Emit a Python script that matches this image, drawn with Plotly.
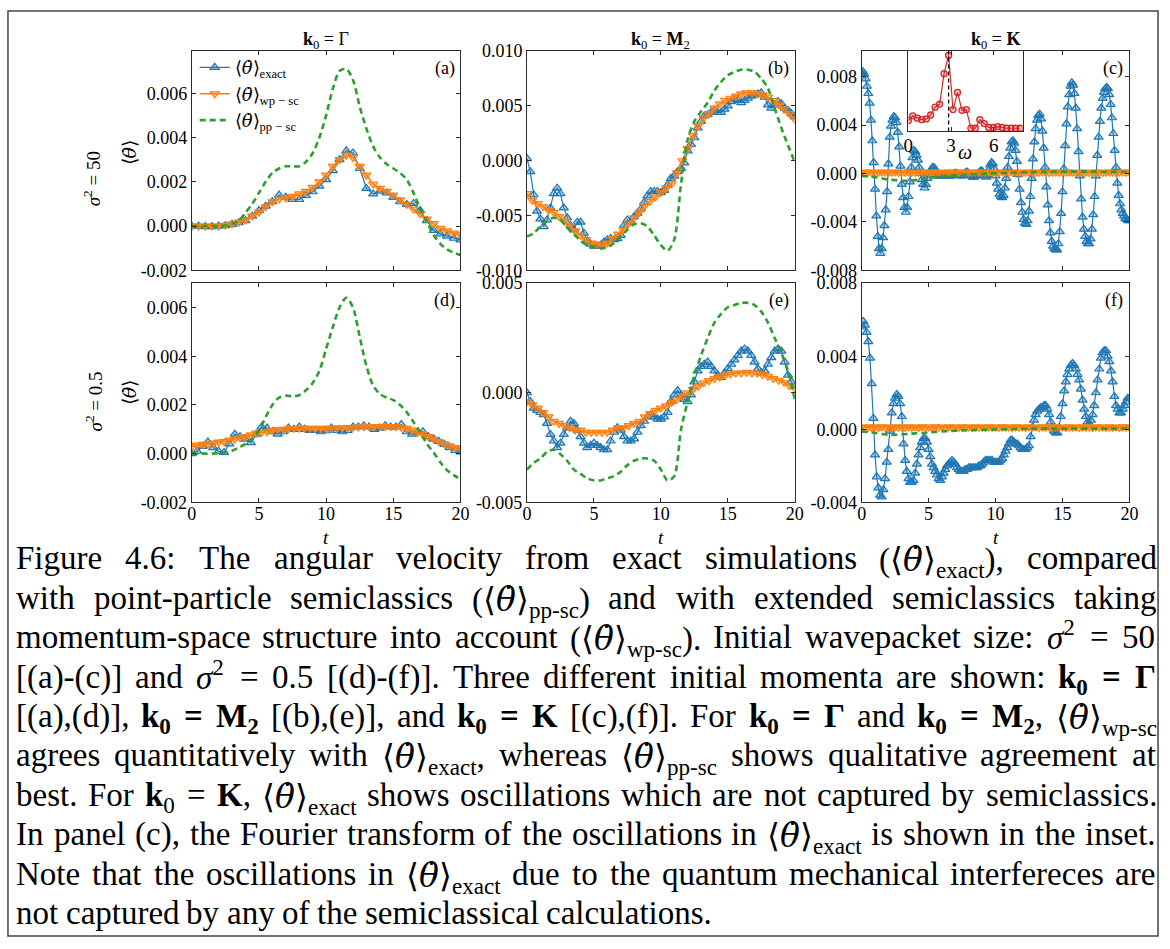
import re
import numpy as np
import plotly.graph_objects as go

W, H = 1170, 949
SERIF = "Liberation Serif"
BLUE, ORANGE, GREEN, RED = "#1f77b4", "#ff7f0e", "#2ca02c", "#d62728"
AXIS_COLOR = "#2b2b2b"
# theta-dot set in DejaVu Serif so that the combining dot sits on the theta
THETA = "\u27e8<span style=\"font-family:DejaVu Serif\"><i>\u03b8\u0307</i></span>\u27e9"

# ---------------- sampling grids ----------------
t_050 = np.linspace(0.0, 20.0, 41)
t_040 = np.linspace(0.0, 20.0, 51)
t_025 = np.linspace(0.0, 20.0, 81)
t_0125 = np.linspace(0.0, 20.0, 161)
t_010 = np.linspace(0.0, 20.0, 201)

# ---------------- sigma^2 = 50, k0 = Gamma ----------------
gamma50_exact = [
    0.0, 0.0, -0.00002, -0.00002, 0.0, 0.00002, 0.00008, 0.00015, 0.00025, 0.00045,
    0.0007, 0.0009, 0.0011, 0.0014, 0.0013, 0.0012, 0.0012, 0.00138, 0.00155, 0.0018,
    0.0021, 0.0025, 0.003, 0.0034, 0.0033, 0.0026, 0.0017, 0.00145, 0.00158, 0.0015,
    0.0013, 0.0011, 0.00098, 0.00102, 0.0007, 0.00025, -0.0002, -0.00035, -0.00045, -0.00055,
    -0.00062]
gamma50_wp = [
    0.0, 0.0, 0.0, 0.0, 0.0, 0.00005, 0.0001, 0.00018, 0.00028, 0.00045,
    0.00063, 0.00087, 0.0011, 0.00122, 0.00127, 0.00134, 0.00145, 0.00157, 0.00175, 0.002,
    0.0023, 0.0027, 0.003, 0.0032, 0.0031, 0.0027, 0.0023, 0.0019, 0.0017, 0.00157,
    0.0014, 0.00118, 0.00098, 0.00077, 0.00056, 0.00032, 0.00011, -0.0001, -0.00022, -0.00032,
    -0.0004]
gamma50_pp = [
    0.0, 0.0, 0.0, 0.0, 0.0, 0.00003, 0.0001, 0.00025, 0.0006, 0.001,
    0.0015, 0.002, 0.0024, 0.0026, 0.0027, 0.0027, 0.0027, 0.0029, 0.0033, 0.004,
    0.005, 0.0062, 0.007, 0.0071, 0.0066, 0.0054, 0.0044, 0.0036, 0.0031, 0.0028,
    0.0026, 0.0024, 0.0021, 0.0015, 0.0008, 0.0002, -0.0004, -0.0008, -0.00105, -0.0012,
    -0.0013]

# ---------------- sigma^2 = 50, k0 = M2 ----------------
m2_50_exact = [
    0.0002, -0.0010, -0.0031, -0.0046, -0.0053, -0.0060, -0.0054, -0.0043,
    -0.0030, -0.0025, -0.0030, -0.0043, -0.0052, -0.0059, -0.0063, -0.0056,
    -0.0056, -0.0066, -0.0073, -0.0076, -0.0078, -0.0078, -0.0077, -0.0074,
    -0.0072, -0.0071, -0.0072, -0.0071, -0.0068, -0.0059, -0.0054, -0.0056,
    -0.0051, -0.0048, -0.0044, -0.0038, -0.0032, -0.0028, -0.0028, -0.0028,
    -0.0029, -0.0027, -0.0022, -0.0016, -0.0014, -0.0010, -0.0007, -0.0002,
    0.0009, 0.0015, 0.0021, 0.0030, 0.0036, 0.0041, 0.0042, 0.0044,
    0.0046, 0.0044, 0.0044, 0.0047, 0.0050, 0.0054, 0.0056, 0.0055,
    0.0053, 0.0055, 0.0057, 0.0059, 0.0060, 0.0061, 0.0062, 0.0058,
    0.0051, 0.0048, 0.0051, 0.0054, 0.0052, 0.0048, 0.0046, 0.0043,
    0.0040]
m2_50_wp = [
    -0.0030, -0.0036, -0.0039, -0.0042, -0.0045, -0.0047, -0.0051, -0.0055, -0.0059, -0.0064,
    -0.0068, -0.0072, -0.0075, -0.0076, -0.0077, -0.0075, -0.0071, -0.0067, -0.0063, -0.0057,
    -0.0052, -0.0047, -0.0041, -0.0037, -0.0033, -0.0029, -0.0025, -0.0021, -0.0011, 0.0000,
    0.0011, 0.0023, 0.0032, 0.0039, 0.0043, 0.0048, 0.0052, 0.0055, 0.0057, 0.0059,
    0.0061, 0.0062, 0.0062, 0.0061, 0.0060, 0.0058, 0.0055, 0.0051, 0.0047, 0.0043,
    0.0038]
m2_50_pp = [
    -0.0069, -0.0066, -0.0060, -0.0055, -0.0052, -0.0054, -0.0061, -0.0067, -0.0073, -0.0077,
    -0.0079, -0.0080, -0.0079, -0.0075, -0.0069, -0.0063, -0.0058, -0.0057, -0.0060, -0.0068,
    -0.0077, -0.0082, -0.0072, -0.0022, 0.0019, 0.0036, 0.0045, 0.0053, 0.0064, 0.0072,
    0.0078, 0.0081, 0.0083, 0.0083, 0.0081, 0.0075, 0.0066, 0.0048, 0.0030, 0.0014,
    -0.0001]

# ---------------- sigma^2 = 50, k0 = K ----------------
k50_exact = [
    0.0083, 0.0084, 0.0082, 0.0078, 0.0072, 0.0066, 0.0058, 0.0044, 0.0027, 0.0009,
    -0.0013, -0.0035, -0.0052, -0.0062, -0.0066, -0.0062, -0.0053, -0.0043, -0.0030, -0.0015,
    0.0008, 0.0030, 0.0039, 0.0044, 0.0047, 0.0046, 0.0042, 0.0034, 0.0022, 0.0006,
    -0.0009, -0.0020, -0.0028, -0.0032, -0.0028, -0.0019, -0.0007, 0.0005, 0.0013, 0.0019,
    0.0018, 0.0015, 0.0011, 0.0005, 0.0000, -0.0005, -0.0009, -0.0012, -0.0009, -0.0004,
    -0.0001, 0.0001, 0.0003, 0.0005, 0.0005, 0.0003, 0.0001, -0.0001, -0.0002, -0.0002,
    -0.0002, -0.0002, -0.0001, -0.0001, -0.0001, -0.0002, -0.0002, -0.0002, -0.0001, 0.0000,
    0.0000, 0.0000, -0.0001, -0.0001, -0.0002, -0.0002, -0.0001, 0.0000, 0.0001, 0.0001,
    0.0000, -0.0001, -0.0002, -0.0003, -0.0003, -0.0002, -0.0001, 0.0000, 0.0001, 0.0002,
    0.0002, 0.0000, -0.0002, -0.0003, -0.0001, 0.0003, 0.0007, 0.0009, 0.0008, 0.0004,
    -0.0002, -0.0008, -0.0013, -0.0017, -0.0019, -0.0020, -0.0018, -0.0012, -0.0004, 0.0005,
    0.0014, 0.0021, 0.0026, 0.0027, 0.0025, 0.0019, 0.0010, -0.0001, -0.0013, -0.0024,
    -0.0032, -0.0038, -0.0041, -0.0042, -0.0039, -0.0031, -0.0019, -0.0004, 0.0012, 0.0026,
    0.0037, 0.0044, 0.0048, 0.0049, 0.0045, 0.0035, 0.0021, 0.0005, -0.0011, -0.0026,
    -0.0039, -0.0049, -0.0056, -0.0060, -0.0062, -0.0063, -0.0063, -0.0058, -0.0048, -0.0033,
    -0.0015, 0.0004, 0.0023, 0.0041, 0.0055, 0.0065, 0.0072, 0.0075, 0.0073, 0.0066,
    0.0054, 0.0037, 0.0018, -0.0002, -0.0021, -0.0036, -0.0046, -0.0052, -0.0056, -0.0058,
    -0.0058, -0.0054, -0.0046, -0.0034, -0.0019, -0.0002, 0.0015, 0.0030, 0.0043, 0.0054,
    0.0062, 0.0067, 0.0070, 0.0071, 0.0070, 0.0065, 0.0057, 0.0046, 0.0033, 0.0019,
    0.0005, -0.0008, -0.0018, -0.0025, -0.0030, -0.0033, -0.0035, -0.0037, -0.0038, -0.0039,
    -0.0039]
k50_wp = [
    0.00008, 0.0001, 0.00012, 0.0001, 0.00008, 0.0001, 0.00012, 0.0001, 0.00008, 0.0001,
    0.00012, 0.0001, 0.00008, 0.0001, 0.00012, 0.0001, 0.00008, 0.0001, 0.00012, 0.0001,
    0.00008, 0.0001, 0.00012, 0.0001, 0.00008, 0.0001, 0.00012, 0.0001, 0.00008, 0.0001,
    0.00012, 0.0001, 0.00008, 0.0001, 0.00012, 0.0001, 0.00008, 0.0001, 0.00012, 0.0001,
    0.00008, 0.0001, 0.00012, 0.0001, 0.00008, 0.0001, 0.00012, 0.0001, 0.00008, 0.0001,
    0.00012, 0.0001, 0.00008, 0.0001, 0.00012, 0.0001, 0.00008, 0.0001, 0.00012, 0.0001,
    0.00008, 0.0001, 0.00012, 0.0001, 0.00008, 0.0001, 0.00012, 0.0001, 0.00008, 0.0001,
    0.00012, 0.0001, 0.00008, 0.0001, 0.00012, 0.0001, 0.00008, 0.0001, 0.00012, 0.0001,
    0.0001]
k50_pp = [
    -0.0002, -0.00025, -0.0003, -0.0004, -0.0005, -0.00055, -0.0006, -0.0006, -0.00055, -0.0005,
    -0.0004, -0.0003, -0.00025, -0.0002, -0.00015, -0.0001, -0.00008, -0.00005, -0.00003, 0.0,
    0.00002, 0.00004, 0.00006, 0.00008, 0.0001, 0.00011, 0.00012, 0.00013, 0.00014, 0.00015,
    0.00015, 0.00015, 0.00015, 0.00015, 0.00015, 0.00015, 0.00014, 0.00013, 0.00013, 0.00012,
    0.00012]

# Fourier spectrum of the k0 = K oscillations (inset)
fft_omega = [0.00, 0.31, 0.63, 0.94, 1.26, 1.57, 1.88, 2.20, 2.51, 2.83, 3.14, 3.46, 3.77,
             4.08, 4.40, 4.71, 5.03, 5.34, 5.65, 5.97, 6.28, 6.60, 6.91, 7.23, 7.54, 7.85]
fft_amp = [0.14, 0.20, 0.17, 0.15, 0.16, 0.21, 0.31, 0.35, 0.74, 0.975, 0.28, 0.50, 0.27,
           0.28, 0.04, 0.04, 0.15, 0.10, 0.05, 0.05, 0.06, 0.05, 0.04, 0.04, 0.04, 0.04]
fft_marker_omega = 2.83

# ---------------- sigma^2 = 0.5, k0 = Gamma ----------------
gamma05_exact = [
    0.0, 0.0001, 0.0003, 0.00048, 0.00025, 0.0001, 0.00005, 0.0004, 0.0008, 0.0007,
    0.0006, 0.00045, 0.0008, 0.0011, 0.00105, 0.0009, 0.0008, 0.0009, 0.00105, 0.001,
    0.0011, 0.001, 0.00095, 0.00095, 0.0009, 0.00094, 0.00105, 0.00095, 0.0009, 0.00095,
    0.0011, 0.0011, 0.00115, 0.0011, 0.001, 0.00105, 0.00115, 0.0011, 0.0011, 0.0012,
    0.0009, 0.0008, 0.00088, 0.0009, 0.0007, 0.0006, 0.0005, 0.00038, 0.00025, 0.00013,
    0.00007]
gamma05_wp = [
    0.0003, 0.00035, 0.00038, 0.0004, 0.00043, 0.00047, 0.0005, 0.00056, 0.0006, 0.00065,
    0.0007, 0.00077, 0.00084, 0.00088, 0.0009, 0.00095, 0.00099, 0.001, 0.00102, 0.00104,
    0.00104, 0.00104, 0.00104, 0.00104, 0.00104, 0.00104, 0.00105, 0.00106, 0.00106, 0.00107,
    0.00108, 0.00109, 0.0011, 0.0011, 0.00111, 0.00111, 0.00111, 0.00111, 0.0011, 0.00108,
    0.00104, 0.00097, 0.00088, 0.0008, 0.0007, 0.0006, 0.0005, 0.0004, 0.00032, 0.00025,
    0.0002]
gamma05_pp = [
    0.0, 0.0, 0.0, 0.0, 0.00002, 0.00006, 0.00012, 0.00025, 0.0004, 0.0006,
    0.00095, 0.0015, 0.002, 0.0023, 0.00238, 0.00236, 0.0024, 0.0026, 0.0029, 0.0034,
    0.0043, 0.0052, 0.006, 0.0064, 0.006, 0.0048, 0.0036, 0.0028, 0.00245, 0.0023,
    0.0022, 0.002, 0.0017, 0.0013, 0.0009, 0.0004, 0.00005, -0.00035, -0.00068, -0.00088,
    -0.00105]

# ---------------- sigma^2 = 0.5, k0 = M2 ----------------
m2_05_exact = [
    0.0, -0.0004, -0.0007, -0.0008, -0.0009, -0.0010, -0.0014, -0.0019,
    -0.0022, -0.0025, -0.0023, -0.0019, -0.0016, -0.0013, -0.0014, -0.0017,
    -0.0020, -0.0023, -0.0025, -0.0024, -0.0023, -0.0024, -0.0025, -0.0026,
    -0.0026, -0.0022, -0.0018, -0.0016, -0.0017, -0.0020, -0.0022, -0.0022,
    -0.0021, -0.0018, -0.0015, -0.0013, -0.0011, -0.0010, -0.0011, -0.0012,
    -0.0012, -0.0011, -0.0009, -0.0004, -0.0001, 0.0001, -0.0001, -0.0003,
    -0.0004, -0.0001, 0.0005, 0.0010, 0.0012, 0.0013, 0.0014, 0.0012,
    0.0010, 0.0008, 0.0007, 0.0009, 0.0011, 0.0013, 0.0015, 0.0017,
    0.0019, 0.0020, 0.0019, 0.0017, 0.0014, 0.0011, 0.0009, 0.0010,
    0.0013, 0.0016, 0.0019, 0.0020, 0.0019, 0.0014, 0.0008, 0.0005,
    0.0003]
m2_05_wp = [
    -0.0004, -0.00055, -0.0007, -0.0009, -0.0011, -0.0013, -0.0014, -0.0015, -0.0016, -0.0017,
    -0.0017, -0.0018, -0.0018, -0.0018, -0.0018, -0.0018, -0.0017, -0.0016, -0.0016, -0.0015,
    -0.0014, -0.0013, -0.0011, -0.00095, -0.0008, -0.0007, -0.0006, -0.00045, -0.0003, -0.00015,
    0.0, 0.00015, 0.0003, 0.00045, 0.00055, 0.00065, 0.00072, 0.0008, 0.00085, 0.0009,
    0.0009, 0.00093, 0.0009, 0.0009, 0.00083, 0.00075, 0.00065, 0.00057, 0.00048, 0.00033,
    0.0002]
m2_05_pp = [
    -0.0035, -0.0032, -0.0030, -0.0027, -0.0026, -0.0028, -0.0031, -0.0035, -0.0037, -0.0039,
    -0.0040, -0.0040, -0.0039, -0.0038, -0.0036, -0.0033, -0.0031, -0.0030, -0.0030, -0.0031,
    -0.0035, -0.0040, -0.0038, -0.0017, -0.0004, 0.0008, 0.0017, 0.0025, 0.0032, 0.0036,
    0.0039, 0.0040, 0.0041, 0.0041, 0.0040, 0.0037, 0.0032, 0.0025, 0.0018, 0.0010,
    -0.0003]

# ---------------- sigma^2 = 0.5, k0 = K ----------------
k05_exact = [
    0.0056, 0.0059, 0.0057, 0.0053, 0.0048, 0.0039, 0.0025, 0.0006,
    -0.0014, -0.0026, -0.0032, -0.0036, -0.0037, -0.0033, -0.0027, -0.0018,
    -0.0011, -0.0001, 0.0009, 0.0014, 0.0017, 0.0019, 0.0018, 0.0014,
    0.0007, -0.0008, -0.0017, -0.0023, -0.0027, -0.0029, -0.0029, -0.0028,
    -0.0024, -0.0019, -0.0014, -0.0010, -0.0007, -0.0005, -0.0005, -0.0007,
    -0.0011, -0.0015, -0.0019, -0.0021, -0.0023, -0.0025, -0.0027, -0.0028,
    -0.0026, -0.0024, -0.0022, -0.0020, -0.0019, -0.0018, -0.0017, -0.0018,
    -0.0019, -0.0021, -0.0022, -0.0023, -0.0023, -0.0023, -0.0022, -0.0022,
    -0.0021, -0.0021, -0.0021, -0.0021, -0.0021, -0.0021, -0.0020, -0.0020,
    -0.0019, -0.0018, -0.0017, -0.0017, -0.0017, -0.0017, -0.0017, -0.0018,
    -0.0018, -0.0018, -0.0018, -0.0017, -0.0016, -0.0014, -0.0012, -0.0010,
    -0.0008, -0.0006, -0.0006, -0.0007, -0.0008, -0.0008, -0.0009, -0.0010,
    -0.0011, -0.0011, -0.0011, -0.0010, -0.0009, -0.0004, 0.0001, 0.0005,
    0.0008, 0.0010, 0.0011, 0.0012, 0.0012, 0.0013, 0.0013, 0.0011,
    0.0008, 0.0004, 0.0001, -0.0001, -0.0002, -0.0002, 0.0001, 0.0007,
    0.0014, 0.0021, 0.0026, 0.0030, 0.0033, 0.0035, 0.0036, 0.0035,
    0.0033, 0.0030, 0.0027, 0.0022, 0.0016, 0.0011, 0.0007, 0.0004,
    0.0003, 0.0005, 0.0008, 0.0013, 0.0020, 0.0027, 0.0033, 0.0039,
    0.0042, 0.0043, 0.0043, 0.0040, 0.0037, 0.0032, 0.0026, 0.0018,
    0.0013, 0.0011, 0.0009, 0.0009, 0.0011, 0.0013, 0.0015, 0.0017,
    0.0017]
k05_wp = [
    0.00012, 0.0001, 0.00013, 0.00011, 0.00012, 0.0001, 0.00013, 0.00011, 0.00012, 0.0001,
    0.00013, 0.00011, 0.00012, 0.0001, 0.00013, 0.00011, 0.00012, 0.0001, 0.00013, 0.00011,
    0.00012, 0.0001, 0.00013, 0.00011, 0.00012, 0.0001, 0.00013, 0.00011, 0.00012, 0.0001,
    0.00013, 0.00011, 0.00012, 0.0001, 0.00013, 0.00011, 0.00012, 0.0001, 0.00013, 0.00011,
    0.00012, 0.0001, 0.00013, 0.00011, 0.00012, 0.0001, 0.00013, 0.00011, 0.00012, 0.0001,
    0.00013, 0.00011, 0.00012, 0.0001, 0.00013, 0.00011, 0.00012, 0.0001, 0.00013, 0.00011,
    0.00012, 0.0001, 0.00013, 0.00011, 0.00012, 0.0001, 0.00013, 0.00011, 0.00012, 0.0001,
    0.00013, 0.00011, 0.00012, 0.0001, 0.00013, 0.00011, 0.00012, 0.0001, 0.00013, 0.00011,
    0.00012]
k05_pp = [
    -0.00012, -0.00015, -0.0002, -0.00025, -0.0003, -0.0003, -0.00028, -0.00025, -0.00022, -0.0002,
    -0.00017, -0.00015, -0.00012, -0.0001, -0.00008, -0.00006, -0.00005, -0.00004, -0.00003, -0.00002,
    -0.00001, 0.0, 0.00001, 0.00002, 0.00003, 0.00003, 0.00004, 0.00004, 0.00004, 0.00004,
    0.00004, 0.00004, 0.00004, 0.00004, 0.00004, 0.00004, 0.00004, 0.00004, 0.00004, 0.00004,
    0.00004]

# ---------------- text ----------------
col_titles = ["<b>k</b><sub>0</sub> = \u0393",
              "<b>k</b><sub>0</sub> = <b>M</b><sub>2</sub>",
              "<b>k</b><sub>0</sub> = <b>K</b>"]
row_titles = ["<i>\u03c3</i><sup>2</sup> = 50", "<i>\u03c3</i><sup>2</sup> = 0.5"]
panel_tags = ["(a)", "(b)", "(c)", "(d)", "(e)", "(f)"]
series_names = [THETA + "<sub>exact</sub>", THETA + "<sub>wp \u2212 sc</sub>",
                THETA + "<sub>pp \u2212 sc</sub>"]

K0 = "<b>k</b><sub><b>0</b></sub> <b>=</b>"
caption_lines = [
    "Figure 4.6:  The angular velocity from exact simulations (" + THETA + "<sub>exact</sub>), compared",
    "with point-particle semiclassics (" + THETA + "<sub>pp-sc</sub>) and with extended semiclassics taking",
    "momentum-space structure into account (" + THETA + "<sub>wp-sc</sub>). Initial wavepacket size: <i>\u03c3</i><sup>2</sup> = 50",
    "[(a)-(c)] and <i>\u03c3</i><sup>2</sup> = 0.5 [(d)-(f)]. Three different initial momenta are shown: " + K0 + " <b>\u0393</b>",
    "[(a),(d)], " + K0 + " <b>M</b><sub><b>2</b></sub> [(b),(e)], and " + K0 + " <b>K</b> [(c),(f)]. For " + K0
    + " <b>\u0393</b> and " + K0 + " <b>M</b><sub><b>2</b></sub>, " + THETA + "<sub>wp-sc</sub>",
    "agrees quantitatively with " + THETA + "<sub>exact</sub>, whereas " + THETA + "<sub>pp-sc</sub> shows qualitative agreement at",
    "best. For <b>k</b><sub>0</sub> = <b>K</b>, " + THETA + "<sub>exact</sub> shows oscillations which are not captured by semiclassics.",
    "In panel (c), the Fourier transform of the oscillations in " + THETA + "<sub>exact</sub> is shown in the inset.",
    "Note that the oscillations in " + THETA + "<sub>exact</sub> due to the quantum mechanical interfereces are",
    "not captured by any of the semiclassical calculations.",
]

for name, arr, n in [("gamma50_exact", gamma50_exact, 41), ("gamma50_wp", gamma50_wp, 41),
                     ("gamma50_pp", gamma50_pp, 41), ("m2_50_exact", m2_50_exact, 81),
                     ("m2_50_wp", m2_50_wp, 51), ("m2_50_pp", m2_50_pp, 41),
                     ("k50_exact", k50_exact, 201), ("k50_wp", k50_wp, 81), ("k50_pp", k50_pp, 41),
                     ("gamma05_exact", gamma05_exact, 51), ("gamma05_wp", gamma05_wp, 51),
                     ("gamma05_pp", gamma05_pp, 41), ("m2_05_exact", m2_05_exact, 81),
                     ("m2_05_wp", m2_05_wp, 51), ("m2_05_pp", m2_05_pp, 41),
                     ("k05_exact", k05_exact, 161), ("k05_wp", k05_wp, 81), ("k05_pp", k05_pp, 41),
                     ("fft_amp", fft_amp, len(fft_omega))]:
    if len(arr) != n:
        raise ValueError(f"{name}: expected {n} samples, got {len(arr)}")

# ---------------- layout geometry (pixels) ----------------
COLS = [(189.0, 461.0), (528.3, 799.3), (867.0, 1138.0)]
ROWS = [(42.0, 266.0), (279.0, 503.0)]


def fx(p):
    return p / W


def fy(p):
    return 1.0 - p / H


panels = [
    dict(t=(t_050, t_050, t_050), y=(gamma50_exact, gamma50_wp, gamma50_pp),
         yr=[-0.002, 0.0079], yt=[-0.002, 0.0, 0.002, 0.004, 0.006]),
    dict(t=(t_025, t_040, t_050), y=(m2_50_exact, m2_50_wp, m2_50_pp),
         yr=[-0.010, 0.010], yt=[-0.010, -0.005, 0.0, 0.005, 0.010]),
    dict(t=(t_010, t_025, t_050), y=(k50_exact, k50_wp, k50_pp),
         yr=[-0.008, 0.0101], yt=[-0.008, -0.004, 0.0, 0.004, 0.008]),
    dict(t=(t_040, t_040, t_050), y=(gamma05_exact, gamma05_wp, gamma05_pp),
         yr=[-0.002, 0.007], yt=[-0.002, 0.0, 0.002, 0.004, 0.006]),
    dict(t=(t_025, t_040, t_050), y=(m2_05_exact, m2_05_wp, m2_05_pp),
         yr=[-0.005, 0.005], yt=[-0.005, 0.0, 0.005]),
    dict(t=(t_0125, t_025, t_050), y=(k05_exact, k05_wp, k05_pp),
         yr=[-0.004, 0.008], yt=[-0.004, 0.0, 0.004, 0.008]),
]

axis_style = dict(showline=True, linecolor=AXIS_COLOR, linewidth=1, mirror="ticks",
                  ticks="inside", ticklen=4, tickwidth=1, tickcolor=AXIS_COLOR,
                  showgrid=False, zeroline=False,
                  tickfont=dict(family=SERIF, size=18, color="black"))

fig = go.Figure()
layout = {}

for i, p in enumerate(panels):
    k = i + 1
    xa = "x" if k == 1 else f"x{k}"
    ya = "y" if k == 1 else f"y{k}"
    col, row = i % 3, i // 3
    legend = (k == 1)
    (te, tw, tp), (ve, vw, vp) = p["t"], p["y"]
    fig.add_trace(go.Scatter(
        x=te, y=ve, xaxis=xa, yaxis=ya, mode="lines+markers", name=series_names[0],
        showlegend=legend, line=dict(color=BLUE, width=1.2),
        marker=dict(symbol="triangle-up", size=8, color="rgba(31,119,180,0.35)",
                    line=dict(color=BLUE, width=1.2))))
    fig.add_trace(go.Scatter(
        x=tw, y=vw, xaxis=xa, yaxis=ya, mode="lines+markers", name=series_names[1],
        showlegend=legend, line=dict(color=ORANGE, width=1.6),
        marker=dict(symbol="triangle-down", size=8, color="rgba(255,127,14,0.45)",
                    line=dict(color=ORANGE, width=1.2))))
    fig.add_trace(go.Scatter(
        x=tp, y=vp, xaxis=xa, yaxis=ya, mode="lines", name=series_names[2],
        showlegend=legend,
        line=dict(color=GREEN, width=2.6, dash="6px,4px", shape="spline", smoothing=0.8)))

    x0, x1 = COLS[col]
    y0, y1 = ROWS[row]
    layout["xaxis" if k == 1 else f"xaxis{k}"] = dict(
        domain=[fx(x0), fx(x1)], range=[0, 20], anchor=ya, ticklabelstandoff=-5,
        tickvals=[0, 5, 10, 15, 20], showticklabels=(row == 1), **axis_style)
    layout["yaxis" if k == 1 else f"yaxis{k}"] = dict(
        domain=[fy(y1), fy(y0)], range=p["yr"], anchor=xa,
        tickvals=p["yt"], ticktext=[f"{v:.3f}" for v in p["yt"]], **axis_style)

# inset: spectrum of the oscillations in panel (c)
fig.add_trace(go.Scatter(
    x=fft_omega, y=fft_amp, xaxis="x7", yaxis="y7", mode="lines+markers", showlegend=False,
    line=dict(color=RED, width=1.2),
    marker=dict(symbol="circle", size=6, color="rgba(214,39,40,0.25)",
                line=dict(color=RED, width=1.3))))
inset_style = dict(axis_style)
inset_style["tickfont"] = dict(family=SERIF, size=19, color="black")
layout["xaxis7"] = dict(domain=[fx(914.3), fx(1030.0)], range=[0, 8.04], anchor="y7",
                        tickvals=[0, 3, 6], ticklabelstandoff=-3, **inset_style)
layout["yaxis7"] = dict(domain=[fy(124.0), fy(42.0)], range=[0, 1.03], anchor="x7",
                        showline=True, linecolor=AXIS_COLOR, linewidth=1, mirror=True,
                        ticks="", showticklabels=False, showgrid=False, zeroline=False)

shapes = [
    dict(type="line", xref="x7", yref="y7", x0=fft_marker_omega, x1=fft_marker_omega,
         y0=0, y1=1.03, line=dict(color="black", width=1.3, dash="4px,3px")),
    dict(type="rect", xref="paper", yref="paper", x0=fx(3), x1=fx(1167), y0=fy(946), y1=fy(1),
         line=dict(color="#444444", width=1.5)),
]

annotations = []


def note(text, x, y, size, xanchor="center", yanchor="middle", **kw):
    d = dict(text=text, x=fx(x), y=fy(y), xref="paper", yref="paper", showarrow=False,
             xanchor=xanchor, yanchor=yanchor, borderpad=0, borderwidth=0,
             font=dict(family=SERIF, size=size, color="black"))
    d.update(kw)
    annotations.append(d)


for c, title in enumerate(col_titles):
    note(title, (COLS[c][0] + COLS[c][1]) / 2, 31, 18)
    note("<i>t</i>", (COLS[c][0] + COLS[c][1]) / 2, 539, 19)
for i, tag in enumerate(panel_tags):
    col, row = i % 3, i // 3
    note(tag, COLS[col][1] - 6, ROWS[row][0] + 18, 18, xanchor="right")
note(row_titles[0], 88, 172, 19, textangle=-90)
note(THETA, 125, 146, 19, textangle=-90)
note(row_titles[1], 90, 400, 19, textangle=-90)
note(THETA, 125, 391, 19, textangle=-90)
note("<i>\u03c9</i>", 972, 145, 20)

# ---------------- justified caption ----------------
CAP_SIZE = 33
CAP_LEFT, CAP_RIGHT = 11.0, 1164.0
CAP_BASE, CAP_STEP = 571.0, 40.3

GLYPH_W = {" ": 250, "(": 333, ")": 333, ",": 250, "-": 333, ".": 250, ":": 278,
           "[": 333, "]": 333, "=": 564, "\u03b8": 600, "\u03c3": 540, "\u0393": 580,
           "\u27e8": 390, "\u27e9": 390, "\u0307": 0, "\u2212": 564}
GLYPH_W.update({d: 500 for d in "0123456789"})
GLYPH_W.update(dict(zip("ABCDEFGHIJKLMNOPQRSTUVWXYZ",
                        [722, 667, 667, 722, 611, 556, 722, 722, 333, 389, 722, 611, 889,
                         722, 722, 556, 722, 667, 556, 611, 722, 722, 944, 722, 722, 611])))
GLYPH_W.update(dict(zip("abcdefghijklmnopqrstuvwxyz",
                        [444, 500, 444, 500, 444, 333, 500, 500, 278, 278, 500, 278, 778,
                         500, 500, 500, 500, 333, 389, 278, 500, 500, 722, 500, 500, 444])))
BOLD_W = {"k": 556, "M": 944, "K": 778, "\u0393": 620, "=": 570, "0": 500, "2": 500}


def token_width(tok, size):
    w, bold, scale = 0.0, False, 1.0
    for part in re.split(r"(<[^>]+>)", tok):
        if not part:
            continue
        if part.startswith("<"):
            name = part.strip("</>").split()[0].lower()
            closing = part.startswith("</")
            if name == "b":
                bold = not closing
            elif name in ("sub", "sup"):
                scale = 1.0 if closing else 0.7
            continue
        for ch in part:
            base = GLYPH_W.get(ch, 500)
            if bold:
                base = BOLD_W.get(ch, base * 1.05)
            w += base * scale
    return w * size / 1000.0


def split_words(line):
    # split on spaces that are outside of markup tags
    words, cur, depth = [], "", 0
    for ch in line:
        if ch == "<":
            depth += 1
        elif ch == ">":
            depth -= 1
        if ch == " " and depth == 0:
            if cur:
                words.append(cur)
            cur = ""
        else:
            cur += ch
    if cur:
        words.append(cur)
    return words


ASCENT = 0.891
for i, line in enumerate(caption_lines):
    words = split_words(line)
    widths = [token_width(wd, CAP_SIZE) for wd in words]
    if i == len(caption_lines) - 1:
        gap = GLYPH_W[" "] * CAP_SIZE / 1000.0
    else:
        gap = max((CAP_RIGHT - CAP_LEFT - sum(widths)) / (len(words) - 1), 4.0)
    top = CAP_BASE + CAP_STEP * i - ASCENT * CAP_SIZE
    x = CAP_LEFT
    for wd, wpx in zip(words, widths):
        shift = 0.153 * CAP_SIZE if "<sup>" in wd else 0.0
        note(wd, x, top - shift, CAP_SIZE, xanchor="left", yanchor="top")
        x += wpx + gap

fig.update_layout(
    width=W, height=H, margin=dict(l=0, r=0, t=0, b=0),
    paper_bgcolor="white", plot_bgcolor="white",
    font=dict(family=SERIF, color="black"),
    showlegend=True,
    legend=dict(x=fx(192), y=fy(40), xanchor="left", yanchor="top",
                bgcolor="rgba(0,0,0,0)", borderwidth=0,
                font=dict(family=SERIF, size=18, color="black"), tracegroupgap=0),
    shapes=shapes, annotations=annotations, **layout)

fig.write_html("out.html")
